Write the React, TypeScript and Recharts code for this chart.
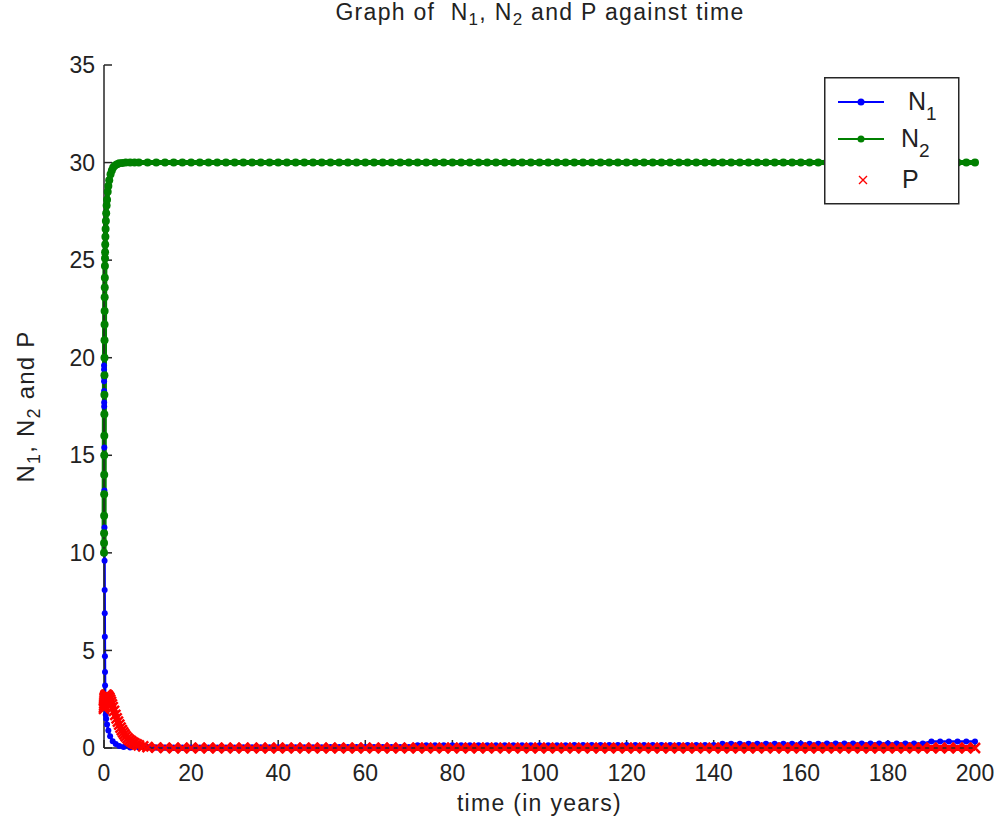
import React from "react";
import { LineChart, Line, XAxis, YAxis, Legend } from "recharts";

// early (transient) samples
const n1Time = [0, 0.005, 0.01, 0.015, 0.02, 0.03, 0.04, 0.05, 0.07, 0.09, 0.11, 0.13, 0.15, 0.17, 0.19, 0.21, 0.23, 0.25, 0.28, 0.32, 0.4, 0.5, 0.7, 1.0, 1.4, 2.0, 2.7, 3.5, 4.5, 6, 8];
const n1Vals = [20, 19.6, 19.4, 19.0, 18.8, 18.3, 17.7, 17.5, 15.4, 13.2, 11.3, 9.6, 8.1, 6.9, 5.7, 4.7, 3.9, 3.2, 2.5, 2.0, 1.7, 1.5, 1.2, 0.9, 0.6, 0.35, 0.2, 0.1, 0.05, 0.03, 0.02];

const n2Time = [0, 0.01, 0.02, 0.03, 0.04, 0.05, 0.06, 0.07, 0.08, 0.09, 0.1, 0.11, 0.12, 0.13, 0.14, 0.15, 0.17, 0.19, 0.21, 0.23, 0.25, 0.28, 0.32, 0.37, 0.43, 0.5, 0.6, 0.7, 0.85, 1.0, 1.2, 1.5, 1.8, 2.1, 2.5, 3.0, 3.5, 4.2, 5, 6, 7, 8];
const n2Vals = [10, 10.5, 11, 11.9, 13.0, 14.0, 15.0, 16.0, 17.1, 18.1, 19.1, 20.0, 20.9, 21.7, 22.4, 23.1, 23.6, 24.1, 24.7, 25.1, 25.4, 25.8, 26.2, 26.6, 27.0, 27.4, 27.8, 28.1, 28.5, 28.8, 29.1, 29.4, 29.6, 29.75, 29.85, 29.92, 29.96, 29.98, 30, 30, 30, 30];

const pTime = [0, 0.02, 0.05, 0.08, 0.12, 0.16, 0.2, 0.25, 0.3, 0.4, 0.5, 0.65, 0.8, 1.0, 1.2, 1.4, 1.6, 1.8, 2.0, 2.3, 2.6, 2.9, 3.2, 3.5, 3.8, 4.1, 4.4, 4.7, 5.0, 5.4, 5.8, 6.2, 6.6, 7.0, 7.5, 8, 9];
const pVals = [2.0, 2.1, 2.2, 2.3, 2.4, 2.5, 2.55, 2.6, 2.65, 2.7, 2.72, 2.72, 2.7, 2.65, 2.58, 2.48, 2.36, 2.23, 2.1, 1.9, 1.7, 1.52, 1.35, 1.2, 1.05, 0.92, 0.8, 0.7, 0.6, 0.5, 0.42, 0.35, 0.29, 0.24, 0.18, 0.14, 0.08];

// later solver output, t = 10 .. 200
const lateTime = [
  10, 12, 14, 16, 18, 20, 22, 24, 26, 28, 30, 32, 34, 36, 38, 40, 42, 44, 46, 48,
  50, 52, 54, 56, 58, 60, 62, 64, 66, 68, 70, 72, 74, 76, 78, 80, 82, 84, 86, 88,
  90, 92, 94, 96, 98, 100, 102, 104, 106, 108, 110, 112, 114, 116, 118, 120, 122, 124, 126, 128,
  130, 132, 134, 136, 138, 140, 142, 144, 146, 148, 150, 152, 154, 156, 158, 160, 162, 164, 166, 168,
  170, 172, 174, 176, 178, 180, 182, 184, 186, 188, 190, 192, 194, 196, 198, 200,
];
const n1Late = [
  0.02, 0.02, 0.02, 0.02, 0.03, 0.03, 0.03, 0.03, 0.03, 0.03, 0.03,
  0.04, 0.04, 0.04, 0.04, 0.04, 0.04, 0.04, 0.04, 0.04, 0.04,
  0.05, 0.05, 0.05, 0.05, 0.05, 0.05, 0.05, 0.05, 0.05, 0.05,
  0.14, 0.14, 0.14, 0.14, 0.14, 0.14, 0.14, 0.14, 0.14, 0.14, 0.14, 0.14, 0.14, 0.14, 0.14, 0.14, 0.14, 0.14,
  0.16, 0.16, 0.16, 0.16, 0.16, 0.16, 0.16, 0.16, 0.16, 0.16, 0.16, 0.16, 0.16, 0.16, 0.16, 0.16, 0.16,
  0.22, 0.22, 0.22, 0.22, 0.22, 0.22, 0.22, 0.22, 0.22, 0.22, 0.22, 0.22,
  0.23, 0.23, 0.23, 0.23, 0.23, 0.23, 0.23, 0.23, 0.23, 0.23, 0.23, 0.23,
  0.33, 0.33, 0.33, 0.33, 0.33, 0.33,
];
const n2Late = [
  30, 30, 30, 30, 30, 30, 30, 30, 30, 30, 30, 30, 30, 30, 30, 30, 30, 30, 30, 30,
  30, 30, 30, 30, 30, 30, 30, 30, 30, 30, 30, 30, 30, 30, 30, 30, 30, 30, 30, 30,
  30, 30, 30, 30, 30, 30, 30, 30, 30, 30, 30, 30, 30, 30, 30, 30, 30, 30, 30, 30,
  30, 30, 30, 30, 30, 30, 30, 30, 30, 30, 30, 30, 30, 30, 30, 30, 30, 30, 30, 30,
  30, 30, 30, 30, 30, 30, 30, 30, 30, 30, 30, 30, 30, 30, 30, 30,
];
const pLate = [
  0.05, 0.02, 0.01, 0, 0, 0, 0, 0, 0, 0, 0, 0, 0, 0, 0, 0, 0, 0, 0, 0,
  0, 0, 0, 0, 0, 0, 0, 0, 0, 0, 0, 0, 0, 0, 0, 0, 0, 0, 0, 0,
  0, 0, 0, 0, 0, 0, 0, 0, 0, 0, 0, 0, 0, 0, 0, 0, 0, 0, 0, 0,
  0, 0, 0, 0, 0, 0, 0, 0, 0, 0, 0, 0, 0, 0, 0, 0, 0, 0, 0, 0,
  0, 0, 0, 0, 0, 0, 0, 0, 0, 0, 0, 0, 0, 0, 0, 0,
];

const xTicks = [0, 20, 40, 60, 80, 100, 120, 140, 160, 180, 200];
const yTicks = [0, 5, 10, 15, 20, 25, 30, 35];

const BLUE = "#0000ff";
const GREEN = "#008000";
const RED = "#ff0000";
const AXIS = "#262626";
const FONT = "'Liberation Sans', Arial, Helvetica, sans-serif";

const join = (ts: number[], vs: number[], lt: number[], lv: number[]) =>
  ts.map((t, i) => ({ t, v: vs[i] })).concat(lt.map((t, i) => ({ t, v: lv[i] })));

const n1Data = join(n1Time, n1Vals, lateTime, n1Late);
const n2Data = join(n2Time, n2Vals, lateTime, n2Late);
const pData = join(pTime, pVals, lateTime, pLate);

const XMark = (props: any) => {
  const { cx, cy, index } = props;
  if (cx == null || cy == null) return null;
  const s = 5;
  return (
    <path
      key={`x-${index}`}
      d={`M${cx - s},${cy - s}L${cx + s},${cy + s}M${cx - s},${cy + s}L${cx + s},${cy - s}`}
      stroke={RED}
      strokeWidth={2.5}
      fill="none"
    />
  );
};

const legendRows = [
  { name: "N", sub: "1", color: BLUE, kind: "line", y: 25, tx: 84 },
  { name: "N", sub: "2", color: GREEN, kind: "line", y: 62, tx: 77 },
  { name: "P", sub: "", color: RED, kind: "x", y: 103, tx: 78 },
];

const LegendBox = () => (
  <svg width={136} height={128} style={{ display: "block", fontFamily: FONT }}>
    <rect x={0.75} y={0.75} width={134} height={126} fill="#fff" stroke={AXIS} strokeWidth={1.5} />
    {legendRows.map((r) => (
      <g key={r.name + r.sub}>
        {r.kind === "line" ? (
          <>
            <line x1={14} x2={60} y1={r.y} y2={r.y} stroke={r.color} strokeWidth={2} />
            <circle cx={37} cy={r.y} r={3.5} fill={r.color} />
          </>
        ) : (
          <path d={`M${35},${r.y - 4}L${43},${r.y + 4}M${35},${r.y + 4}L${43},${r.y - 4}`} stroke={r.color} strokeWidth={1.4} />
        )}
        <text x={r.tx} y={r.y + 8} fontSize={25} fill="#222">
          {r.name}
          {r.sub && (
            <tspan dy={10} fontSize={19}>
              {r.sub}
            </tspan>
          )}
        </text>
      </g>
    ))}
  </svg>
);

const YLabel = (props: any) => {
  const vb = props.viewBox || {};
  const cx = (vb.x || 0) + 34;
  const cy = (vb.y || 0) + (vb.height || 0) / 2;
  return (
    <text
      x={cx}
      y={cy}
      transform={`rotate(-90, ${cx}, ${cy})`}
      textAnchor="middle"
      fontSize={24}
      letterSpacing={1.2}
      fill="#222"
      fontFamily={FONT}
      style={{ whiteSpace: "pre" }}
    >
      N<tspan dy={6} fontSize={18}>1</tspan>
      <tspan dy={-6}>, N</tspan>
      <tspan dy={6} fontSize={18}>2</tspan>
      <tspan dy={-6}> and P</tspan>
    </text>
  );
};

const XLabel = (props: any) => {
  const vb = props.viewBox || {};
  return (
    <text
      x={(vb.x || 0) + (vb.width || 0) / 2}
      y={(vb.y || 0) + 63}
      textAnchor="middle"
      fontSize={23}
      letterSpacing={1.3}
      fill="#222"
      fontFamily={FONT}
    >
      time (in years)
    </text>
  );
};

const tickStyle = { fontSize: 23, fill: "#222", fontFamily: FONT };

export default function App() {
  return (
    <div style={{ position: "absolute", left: 0, top: 0, width: 994, height: 821, background: "#fff" }}>
      <svg
        width={994}
        height={50}
        style={{ position: "absolute", left: 0, top: 0, fontFamily: FONT }}
      >
        <text x={540} y={20} textAnchor="middle" fontSize={23} letterSpacing={1.3} fill="#222" style={{ whiteSpace: "pre" }}>
          {"Graph of  N"}
          <tspan dy={5} fontSize={17}>1</tspan>
          <tspan dy={-5}>, N</tspan>
          <tspan dy={5} fontSize={17}>2</tspan>
          <tspan dy={-5}> and P against time</tspan>
        </text>
      </svg>
      <LineChart width={994} height={821} margin={{ top: 65, right: 19, bottom: 0, left: 0 }}>
        <XAxis
          xAxisId="b"
          type="number"
          dataKey="t"
          domain={[0, 200]}
          ticks={xTicks}
          orientation="bottom"
          height={73}
          tickSize={-8}
          tickMargin={25}
          tick={tickStyle}
          stroke={AXIS}
          strokeWidth={1.5}
          label={<XLabel />}
        />
        <XAxis
          xAxisId="t"
          type="number"
          dataKey="t"
          domain={[0, 200]}
          ticks={xTicks}
          orientation="top"
          height={0}
          tickSize={-8}
          tickFormatter={() => ""}
          stroke={AXIS}
          strokeWidth={1.5}
        />
        <YAxis
          yAxisId="l"
          type="number"
          domain={[0, 35]}
          ticks={yTicks}
          orientation="left"
          width={104}
          tickSize={-8}
          tickMargin={17}
          tick={tickStyle}
          stroke={AXIS}
          strokeWidth={1.5}
          label={<YLabel />}
        />
        <YAxis
          yAxisId="r"
          type="number"
          domain={[0, 35]}
          ticks={yTicks}
          orientation="right"
          width={0}
          tickSize={-8}
          tickFormatter={() => ""}
          stroke={AXIS}
          strokeWidth={1.5}
        />
        <Line
          xAxisId="b"
          yAxisId="l"
          data={n1Data}
          dataKey="v"
          name="N1"
          stroke={BLUE}
          strokeWidth={2.5}
          dot={{ r: 3, fill: BLUE, stroke: BLUE, strokeWidth: 0 }}
          activeDot={false}
          isAnimationActive={false}
        />
        <Line
          xAxisId="b"
          yAxisId="l"
          data={n2Data}
          dataKey="v"
          name="N2"
          stroke={GREEN}
          strokeWidth={5}
          dot={{ r: 4, fill: GREEN, stroke: GREEN, strokeWidth: 0 }}
          activeDot={false}
          isAnimationActive={false}
        />
        {/* markers only in the original; a wide stroke stands in for the dense marker band */}
        <Line
          xAxisId="b"
          yAxisId="l"
          data={pData}
          dataKey="v"
          name="P"
          stroke={RED}
          strokeWidth={6}
          dot={<XMark />}
          activeDot={false}
          isAnimationActive={false}
        />
        <Legend
          layout="horizontal"
          verticalAlign="middle"
          align="center"
          content={() => <LegendBox />}
          wrapperStyle={{ left: 824, top: 77, width: 136, height: 128 }}
        />
      </LineChart>
    </div>
  );
}
